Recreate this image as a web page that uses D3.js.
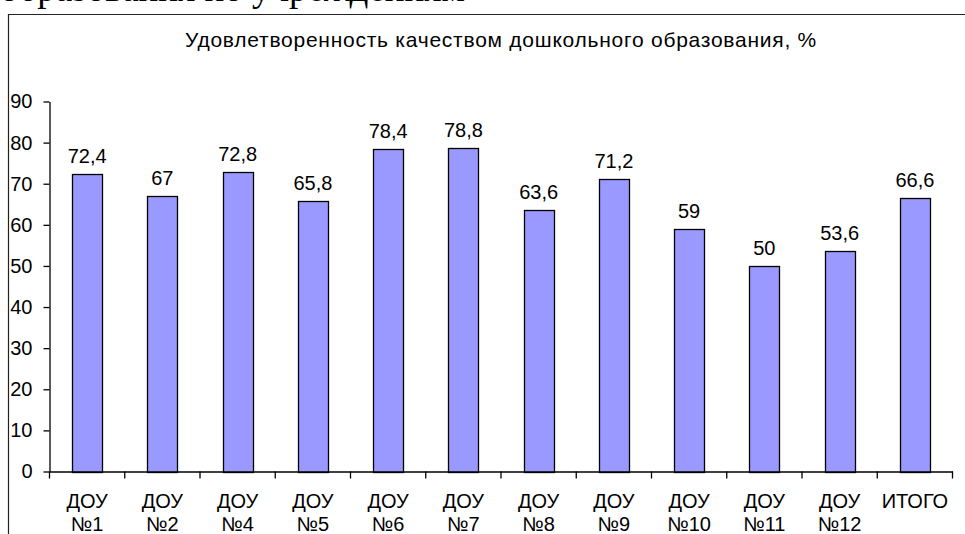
<!DOCTYPE html>
<html>
<head>
<meta charset="utf-8">
<script src="https://cdn.jsdelivr.net/npm/d3@7"></script>
<style>
  html, body { margin: 0; padding: 0; background: #fff; }
  svg { display: block; }
  text { font-family: Arial, "Liberation Sans", sans-serif; fill: #000; }
</style>
</head>
<body>
<svg id="chart" width="965" height="534"></svg>
<script>
const categories = [
  ["ДОУ", "№1"], ["ДОУ", "№2"], ["ДОУ", "№4"], ["ДОУ", "№5"],
  ["ДОУ", "№6"], ["ДОУ", "№7"], ["ДОУ", "№8"], ["ДОУ", "№9"],
  ["ДОУ", "№10"], ["ДОУ", "№11"], ["ДОУ", "№12"], ["ИТОГО"]
];
const values = [72.4, 67, 72.8, 65.8, 78.4, 78.8, 63.6, 71.2, 59, 50, 53.6, 66.6];
const yTicks = [0, 10, 20, 30, 40, 50, 60, 70, 80, 90];
const chartTitle = "Удовлетворенность качеством дошкольного образования, %";
const pageText = "образования по учреждениям";

const svg = d3.select("#chart");
const keys = categories.map((c, i) => "c" + i);

// surrounding document text (cut off at top)
svg.append("text")
  .attr("x", 0).attr("y", 1)
  .style("font-family", "'Liberation Serif', 'Times New Roman', serif")
  .style("font-size", "37px")
  .text(pageText);

// chart frame
svg.append("path")
  .attr("d", "M8.5,540 V14.5 H970")
  .attr("fill", "none").attr("stroke", "#222").attr("stroke-width", 1.2);

const x = d3.scaleBand().domain(keys).range([49.5, 952.5]).paddingInner(0.6).paddingOuter(0.3);
const y = d3.scaleLinear().domain([0, 90]).range([471.5, 101.5]);

// title
svg.append("text")
  .attr("x", 501).attr("y", 46.5)
  .attr("text-anchor", "middle")
  .style("font-size", "21px")
  .style("letter-spacing", "0.75px")
  .text(chartTitle);

// bars
svg.append("g").selectAll("rect").data(values).join("rect")
  .attr("x", (d, i) => Math.round(x(keys[i])) + 0.5)
  .attr("y", d => Math.round(y(d)) + 0.5)
  .attr("width", Math.round(x.bandwidth()))
  .attr("height", d => Math.round(y(0)) - Math.round(y(d)))
  .attr("fill", "#9999FF")
  .attr("stroke", "#000").attr("stroke-width", 1.3);

// data labels
svg.append("g").selectAll("text").data(values).join("text")
  .attr("x", (d, i) => x(keys[i]) + x.bandwidth() / 2)
  .attr("y", d => y(d) - 11)
  .attr("text-anchor", "middle")
  .style("font-size", "20px")
  .text(d => String(d).replace(".", ","));

// y axis
const yAxis = svg.append("g")
  .attr("transform", "translate(49.5,0)")
  .call(d3.axisLeft(y).tickValues(yTicks).tickSize(6).tickSizeOuter(0).tickPadding(11));
yAxis.select(".domain").attr("stroke", "#000").attr("stroke-width", 1.3);
yAxis.selectAll(".tick line").attr("stroke", "#000").attr("stroke-width", 1.3);
yAxis.selectAll(".tick text")
  .style("font-size", "20px").style("font-family", "Arial, 'Liberation Sans', sans-serif")
  .attr("fill", "#000");

// x axis
const xAxis = svg.append("g")
  .attr("transform", `translate(0,${y(0)})`)
  .call(d3.axisBottom(x).tickSize(0).tickSizeOuter(0).tickPadding(0).tickFormat(""));
xAxis.select(".domain").attr("stroke", "#000").attr("stroke-width", 1.3);

// boundary ticks between categories
const bounds = d3.range(keys.length + 1).map(i => x.range()[0] + i * x.step());
xAxis.selectAll(".btick").data(bounds).join("line")
  .attr("class", "btick")
  .attr("x1", d => d).attr("x2", d => d)
  .attr("y1", 0).attr("y2", 7)
  .attr("stroke", "#000").attr("stroke-width", 1.3);

// category labels
xAxis.selectAll(".tick").each(function(k, i) {
  const t = d3.select(this).select("text").text(null)
    .attr("y", 0).attr("dy", null)
    .style("font-size", "20px").style("font-family", "Arial, 'Liberation Sans', sans-serif")
    .attr("fill", "#000");
  categories[i].forEach((line, j) => {
    t.append("tspan").attr("x", 0).attr("y", 36 + j * 23).text(line);
  });
});
</script>
</body>
</html>
